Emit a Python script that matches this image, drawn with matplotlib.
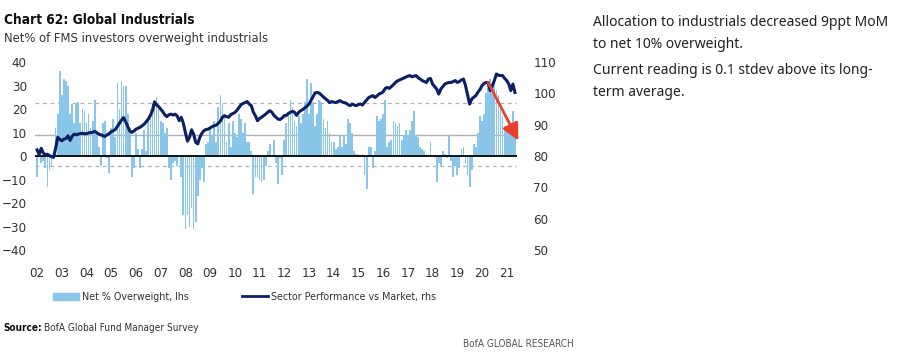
import numpy as np
import matplotlib
matplotlib.use("Agg")
import matplotlib.pyplot as plt
from matplotlib import font_manager

# ---- data (monthly, Jan 2002 - May 2021) ----
net_ow = [
    -9, 2, -3, -2, -5, -13, -6, -4, 0, 12, 18, 36,          # 2002
    26, 33, 32, 30, 18, 22, 14, 22, 23, 14, 20, 19,         # 2003
    14, 18, 12, 15, 24, 10, 4, -4, 14, 15, -1, -7,          # 2004
    12, 16, 8, 31, 20, 32, 30, 30, 18, 12, -9, -5,          # 2005
    10, 3, -5, 3, 11, 2, 15, 20, 22, 24, 25, 20,            # 2006
    15, 14, 10, 12, -5, -10, -3, -2, -4, 0, -9, -25,        # 2007
    -31, -25, -30, -22, -31, -28, -17, -10, -5, -11, 5, 6,  # 2008
    12, 9, 15, 6, 21, 26, 22, 17, 6, 14, 4, 15,             # 2009
    10, 8, 18, 16, 10, 14, 6, 6, 2, -16, -9, -9,            # 2010
    -10, -11, -10, -4, 2, 5, 0, 7, -3, -12, -1, -8,         # 2011
    7, 14, 18, 24, 21, 15, 13, 17, 14, 18, 23, 33,          # 2012
    18, 31, 23, 13, 18, 24, 23, 16, 12, 15, 10, 6,          # 2013
    6, 3, 4, 9, 4, 9, 5, 16, 14, 10, 2, 1,                  # 2014
    1, 0, 1, -8, -14, 4, 4, -5, 2, 17, 15, 16,              # 2015
    18, 24, 4, 6, 7, 15, 14, 13, 14, 7, 9, 11,              # 2016
    9, 11, 15, 19, 9, 8, 4, 3, 2, 1, 0, 6,                  # 2017
    0, -1, -11, -3, -4, 2, 1, -1, 9, -2, -9, -4,            # 2018
    -8, -5, 3, 4, -3, -8, -13, -6, 5, 4, 10, 17,            # 2019
    15, 18, 27, 31, 33, 27, 32, 28, 26, 21, 17, 13,         # 2020
    12, 11, 14, 19, 10,                                     # 2021
]

sector_perf = [
    82, 80.5, 82.5, 81, 80.5, 80.6, 80.2, 79.8, 79.6, 82.5, 86, 85.4,
    84.9, 85.4, 85.6, 86.5, 85, 86.3, 87, 86.8, 87, 87.2, 87.3, 87.1,
    87.2, 87.4, 87.5, 87.6, 87.9, 87.5, 87, 86.8, 86.5, 86.3, 86.8, 87.2,
    87.8, 88.1, 88.5, 89.5, 90.5, 91.5, 92.3, 91, 89.5, 88, 87.6, 88,
    88.6, 88.9, 89.2, 89.7, 90.2, 91, 91.8, 93, 94.5, 97.3, 96.4, 95.8,
    95, 94.2, 93.2, 92.6, 93.2, 93.4, 93.1, 93.4, 92.8, 91.3, 92.4, 90.5,
    87.5, 84.8, 86, 88.4, 87, 84.4, 83.9, 86, 87.3, 88.1, 88.5, 88.6,
    89, 89.4, 89.7, 89.9, 90.5, 91.2, 92.4, 92.9, 92.6, 92.4, 93.2, 93.6,
    93.9, 94.6, 95.5, 96.4, 96.8, 97.1, 97.4, 96.6, 96.1, 94, 92.9, 91.3,
    92, 92.4, 92.9, 93.4, 94, 94.5, 94, 93, 92.4, 91.8, 91.7, 92.2,
    92.9, 93, 93.6, 94, 94.3, 94, 93, 94, 94.5, 94.9, 95.4, 95.9,
    96.6, 97.8, 99, 100.2, 100.3, 100.1, 99.5, 98.9, 98.3, 97.8, 97.1, 97.4,
    97.2, 97.1, 97.4, 97.7, 97.3, 97.1, 96.9, 96.4, 96.1, 96.6, 96.3, 96.1,
    96.5, 96.6, 96.3, 97.2, 97.9, 98.7, 99, 99.3, 98.7, 99.2, 99.8, 100.1,
    100.5, 101.6, 101.9, 101.6, 102.2, 102.8, 103.5, 104, 104.3, 104.6, 104.9, 105.2,
    105.5, 105.7, 105.3, 105.5, 105.7, 105, 104.6, 104.1, 103.8, 103.5, 104.6, 104.8,
    103, 102.2, 101.4, 99.8, 101.4, 102.2, 103, 103.3, 103.5, 103.5, 103.8, 104.1,
    103.5, 103.8, 104.3, 104.6, 102.5, 99.5, 96.6, 98.2, 98.8, 99.3, 100.4, 101.2,
    102.5, 103.2, 103.5, 103.5, 100.9, 102.5, 104.1, 106.2, 105.8, 105.7, 105.7, 104.8,
    104.1, 103, 100.9, 103, 100.3,
]

years = list(range(2002, 2022))
year_labels = [f"{y % 100:02d}" for y in years]
avg_level = 9.0
stdev_band = 13.4

dates = 2002 + np.arange(len(net_ow)) / 12.0

# condensed face if the system has one, otherwise plain DejaVu
has_cond = any(f.name == "DejaVu Sans" and f.stretch == "condensed"
               for f in font_manager.fontManager.ttflist)
plt.rcParams["font.family"] = ["DejaVu Sans"]
plt.rcParams["font.stretch"] = "condensed" if has_cond else "normal"
shrink = 1.0 if has_cond else 0.88

BAR = "#8ac6ea"
NAVY = "#0b1f66"
TXT = "#333333"

fig = plt.figure(figsize=(9, 3.61), dpi=100)
ax = fig.add_axes([0.039, 0.307, 0.535, 0.521])
ax2 = ax.twinx()

ax.bar(dates, net_ow, width=0.07, color=BAR, linewidth=0, zorder=2)
ax.axhline(0, color="#111111", lw=1.4, zorder=3)
ax.axhline(avg_level, color="#b0b0b0", lw=1.0, zorder=1)
ax.axhline(avg_level + stdev_band, color="#b0b0b0", lw=0.9, ls=(0, (3, 3)), zorder=1)
ax.axhline(avg_level - stdev_band, color="#b0b0b0", lw=0.9, ls=(0, (3, 3)), zorder=1)

ax2.plot(dates, sector_perf, color=NAVY, lw=2.2, zorder=4)

ax.set_xlim(2001.92, 2021.40)
ax.set_ylim(-40, 40)
ax2.set_ylim(50, 110)
ax.set_yticks(range(-40, 41, 10))
ax2.set_yticks(range(50, 111, 10))
ax.set_xticks(years)
ax.set_xticklabels(year_labels)

for a in (ax, ax2):
    for s in a.spines.values():
        s.set_visible(False)
    a.tick_params(length=0, labelsize=9.5 * shrink, colors=TXT)
ax.tick_params(axis="y", pad=6)
ax.tick_params(axis="x", pad=12)
ax2.tick_params(axis="y", pad=12)

# red arrow annotation
ax2.annotate("", xy=(2021.47, 85.0), xytext=(dates[219], sector_perf[219]),
             arrowprops=dict(arrowstyle="-|>", color="#e8402a", lw=2.0,
                             mutation_scale=25, shrinkA=0, shrinkB=0),
             zorder=6, annotation_clip=False)

# legend
h_bar = plt.Rectangle((0, 0), 1, 1, color=BAR)
h_line = plt.Line2D([], [], color=NAVY, lw=2)
fig.legend([h_bar, h_line], ["Net % Overweight, lhs", "Sector Performance vs Market, rhs"],
           loc="center", bbox_to_anchor=(0.272, 0.177), ncol=2, frameon=False,
           fontsize=7.7 * shrink, columnspacing=5.0, handlelength=2.4, handletextpad=0.3,
           labelcolor=TXT)

# titles and notes
fig.text(0.004, 0.945, "Chart 62: Global Industrials", fontsize=9.8 * shrink, fontweight="bold",
         color="#111111", va="center")
fig.text(0.004, 0.893, "Net% of FMS investors overweight industrials", fontsize=9.3 * shrink,
         color=TXT, va="center")
fig.text(0.004, 0.092, "Source:", fontsize=7.2, fontweight="bold", color="#111111", va="center")
fig.text(0.049, 0.092, "BofA Global Fund Manager Survey", fontsize=7.2, color=TXT, va="center")
fig.text(0.638, 0.047, "BofA GLOBAL RESEARCH", fontsize=7.2, color="#555555",
         va="center", ha="right")

note_font = ["Noto Sans", "DejaVu Sans"]
fig.text(0.659, 0.958, "Allocation to industrials decreased 9ppt MoM\nto net 10% overweight.",
         fontsize=10, family=note_font, stretch="normal", color="#222222", va="top",
         linespacing=1.6)
fig.text(0.659, 0.825, "Current reading is 0.1 stdev above its long-\nterm average.",
         fontsize=10, family=note_font, stretch="normal", color="#222222", va="top",
         linespacing=1.6)

fig.savefig("out.png", dpi=100)
